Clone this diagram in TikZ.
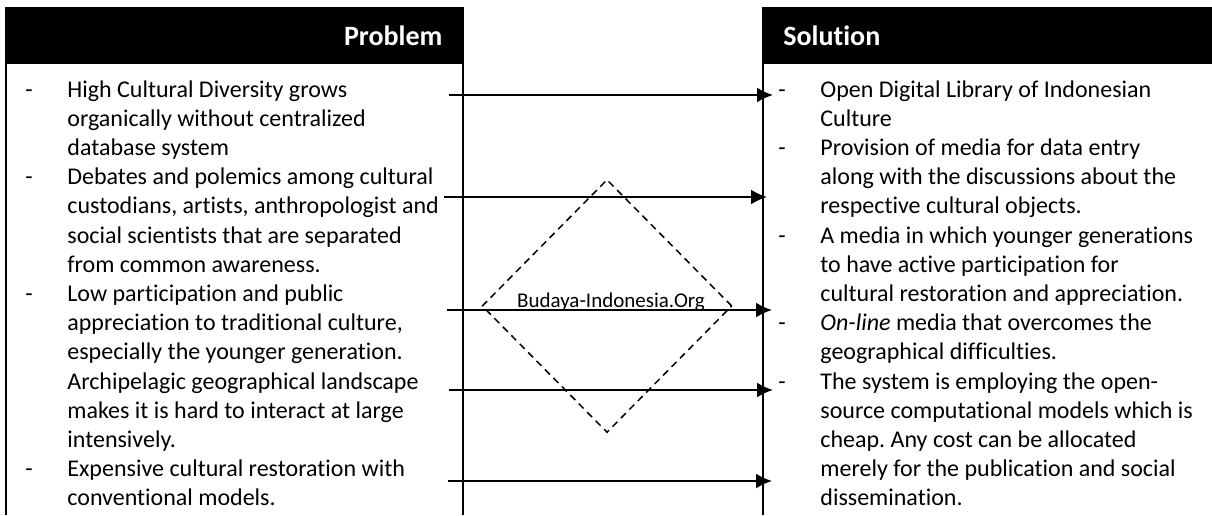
\documentclass[tikz,border=0pt]{standalone}
\usepackage{fontspec}
\setmainfont{Carlito}[Ligatures=NoCommon]
\frenchspacing
\usetikzlibrary{arrows.meta,shapes.geometric}

\tikzset{
  headbar/.style={fill=black,text=white,font=\fontsize{14}{17}\selectfont\bfseries,
    inner ysep=0pt,minimum height=28.5pt,anchor=north west},
  column/.style={inner sep=0pt,anchor=base west,font=\fontsize{12}{14.6}\selectfont},
  frame/.style={line width=1pt},
  link/.style={line width=1pt,-{Latex[length=8pt,width=7.5pt]}},
}

\begin{document}
\begin{tikzpicture}[x=0.5pt,y=-0.5pt]
\useasboundingbox (0,0) rectangle (1212,515);

% headers
\node[headbar,inner xsep=11pt,text width=207.5pt,align=right] (probhead) at (5,7) {Problem};
\node[headbar,inner xsep=10.5pt,text width=204pt,align=left] (solhead) at (762,7) {Solution};

% open columns below the headers
\coordinate (probfoot) at (6,515);
\coordinate (probfoot2) at (463,515);
\coordinate (solfoot) at (763,515);
\draw[frame] (6,7) -- (probfoot);
\draw[frame] (463,7) -- (probfoot2);
\draw[frame] (763,7) -- (solfoot);

% problem list
\node[column] (probtext) at (25,97) {%
\begin{tabular}[t]{@{}p{21pt}@{}l@{}}
- & High Cultural Diversity grows\\
  & organically without centralized\\
  & database system\\
- & Debates and polemics among cultural\\
  & custodians, artists, anthropologist and\\
  & social scientists that are separated\\
  & from common awareness.\\
- & Low participation and public\\
  & appreciation to traditional culture,\\
  & especially the younger generation.\\
  & Archipelagic geographical landscape\\
  & makes it is hard to interact at large\\
  & intensively.\\
- & Expensive cultural restoration with\\
  & conventional models.
\end{tabular}};

% solution list
\node[column] (soltext) at (778,97) {%
\begin{tabular}[t]{@{}p{21pt}@{}l@{}}
- & Open Digital Library of Indonesian\\
  & Culture\\
- & Provision of media for data entry\\
  & along with the discussions about the\\
  & respective cultural objects.\\
- & A media in which younger generations\\
  & to have active participation for\\
  & cultural restoration and appreciation.\\
- & \textit{On-line} media that overcomes the\\
  & geographical difficulties.\\
- & The system is employing the open-\\
  & source computational models which is\\
  & cheap. Any cost can be allocated\\
  & merely for the publication and social\\
  & dissemination.
\end{tabular}};

% the portal in the middle
\node[diamond,draw,line width=0.75pt,dash pattern=on 3.5pt off 2.5pt,
  minimum width=125pt,minimum height=126.5pt,inner sep=0pt] (portal) at (607,306) {};
\node[anchor=base,inner sep=0pt,font=\fontsize{10.5}{12}\selectfont] (portalname) at (611,307) {Budaya-Indonesia.Org};

% arrows from problems to solutions
\foreach \n/\xa/\xb/\y in {1/449/773/95, 2/444/767/197, 3/447/772/310, 4/449/773/390, 5/448/772/481}
{
  \coordinate (src\n) at (\xa,\y);
  \coordinate (dst\n) at (\xb,\y);
  \draw[link] (src\n) -- (dst\n);
}
\end{tikzpicture}
\end{document}
